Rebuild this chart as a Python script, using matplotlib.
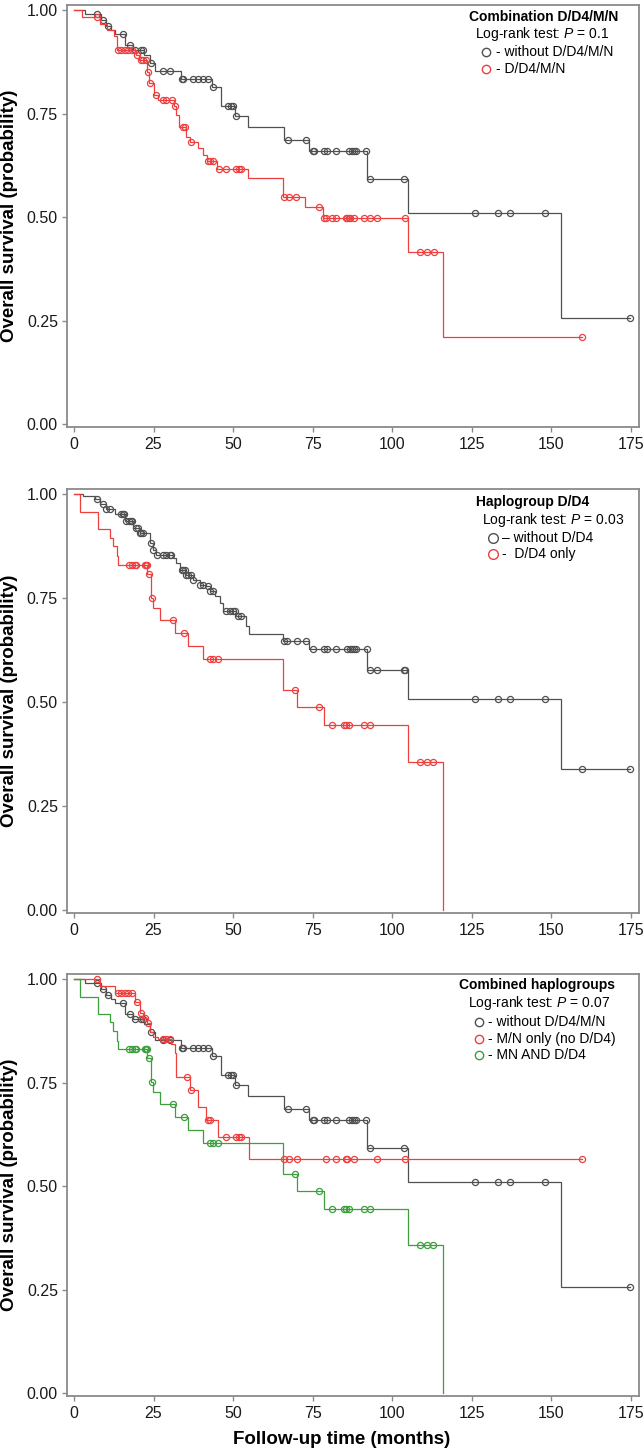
import matplotlib
matplotlib.use('Agg')
import matplotlib.pyplot as plt
import numpy as np

plt.rcParams['font.family'] = ['Liberation Sans', 'DejaVu Sans']
plt.rcParams['mathtext.fontset'] = 'custom'
plt.rcParams['mathtext.rm'] = 'Liberation Sans'
plt.rcParams['mathtext.it'] = 'Liberation Sans:italic'

# ---------------- data (months, survival probability) ----------------
# without D/D4/M/N (panels 1 and 3, black)
A_event_t = [3.4, 8.5, 10.0, 11.5, 13.0, 16.0, 18.5, 22.0, 24.0, 25.5, 33.7, 43.5, 46.3, 50.6, 54.6, 66.1, 74.0, 92.2, 104.9, 153.0]
A_event_s = [0.992, 0.976, 0.963, 0.952, 0.942, 0.917, 0.905, 0.893, 0.872, 0.854, 0.835, 0.815, 0.769, 0.744, 0.717, 0.687, 0.659, 0.593, 0.510, 0.256]
A_censor_t = [7.1, 9.2, 10.8, 15.5, 17.6, 19.1, 21.2, 21.7, 24.3, 28.0, 30.1, 33.8, 34.3, 37.4, 39.0, 40.5, 42.1, 43.7,
              48.5, 49.5, 50.0, 50.8, 67.4, 72.9, 75.0, 75.5, 78.7, 79.4, 82.2, 86.4, 87.5, 88.0, 88.5, 91.8,
              93.0, 103.7, 126.0, 133.3, 137.2, 148.2, 174.7]
A_end = 174.7

# D/D4/M/N (panel 1, red)
B_event_t = [2.5, 8.2, 10.5, 12.7, 13.5, 19.5, 20.5, 23.0, 23.6, 25.3, 26.5, 31.3, 32.1, 33.0, 35.3, 36.5, 39.0, 40.5, 41.7, 44.8, 54.6, 65.6, 72.5, 78.3, 104.9, 115.9]
B_event_s = [0.985, 0.968, 0.952, 0.937, 0.905, 0.893, 0.880, 0.852, 0.824, 0.796, 0.784, 0.768, 0.748, 0.719, 0.695, 0.683, 0.667, 0.651, 0.635, 0.616, 0.594, 0.550, 0.524, 0.498, 0.415, 0.210]
B_censor_t = [7.1, 13.9, 14.9, 16.0, 17.0, 18.1, 19.8, 21.2, 21.7, 22.5, 23.3, 23.8, 25.7, 28.0, 29.0, 30.9, 31.6,
              34.2, 34.8, 36.9, 42.1, 42.8, 43.7, 45.5, 47.9, 50.8, 51.8, 52.6, 65.9, 67.5, 69.8, 77.1,
              78.7, 79.1, 81.2, 82.2, 85.4, 85.9, 86.4, 86.9, 88.0, 91.1, 93.2, 95.3, 104.2,
              108.9, 111.0, 113.1, 159.6]
B_end = 159.6

# without D/D4 (panel 2, black)
C_event_t = [2.9, 6.6, 8.2, 10.2, 12.9, 16.0, 18.6, 20.7, 23.8, 24.9, 25.9, 31.1, 32.2, 33.2, 35.3, 37.4, 39.5, 41.6, 42.6, 44.2, 45.8, 46.8, 51.0, 54.0, 55.0, 65.6, 74.0, 92.2, 104.9, 153.0]
C_event_s = [0.996, 0.988, 0.976, 0.964, 0.952, 0.936, 0.920, 0.908, 0.884, 0.867, 0.855, 0.847, 0.835, 0.819, 0.807, 0.795, 0.783, 0.779, 0.767, 0.755, 0.739, 0.719, 0.707, 0.683, 0.665, 0.647, 0.627, 0.577, 0.508, 0.340]
C_censor_t = [7.1, 9.2, 10.2, 11.2, 14.8, 15.3, 15.8, 16.3, 17.3, 17.8, 18.3, 19.6, 20.1, 20.7, 21.2, 21.7, 24.3,
              24.9, 26.0, 28.0, 29.0, 30.1, 30.6, 33.8, 34.3, 34.8, 35.3, 35.8, 36.9, 37.4, 39.5, 40.5,
              42.1, 42.6, 43.7, 47.9, 49.0, 50.0, 50.5, 51.6, 52.6, 66.1, 67.1, 70.2, 72.8, 75.0, 78.7,
              79.4, 82.2, 85.9, 86.9, 87.5, 88.0, 88.5, 92.0, 93.0, 95.3, 103.7, 104.2, 126.0, 133.3,
              137.2, 148.2, 159.6, 174.7]
C_end = 174.7

# D/D4 only (panel 2, red) == MN AND D/D4 (panel 3, green)
D_event_t = [1.9, 7.6, 11.3, 12.3, 13.4, 13.9, 23.0, 24.2, 24.9, 27.0, 31.7, 35.8, 40.5, 65.6, 70.1, 78.7, 104.9, 115.9]
D_event_s = [0.958, 0.917, 0.896, 0.876, 0.851, 0.831, 0.809, 0.751, 0.727, 0.699, 0.667, 0.635, 0.605, 0.529, 0.488, 0.446, 0.357, 0.0]
D_censor_t = [17.3, 18.1, 19.1, 19.6, 22.3, 22.6, 22.8, 23.5, 24.4, 31.1, 34.6, 42.8, 43.7, 45.2, 69.6, 77.1,
              81.2, 84.8, 85.4, 86.4, 91.1, 93.2, 108.9, 111.0, 112.9]
D_end = 115.9

# M/N only (no D/D4) (panel 3, red)
E_event_t = [8.2, 12.9, 19.1, 20.7, 21.7, 22.8, 23.8, 24.9, 26.5, 30.6, 31.6, 32.2, 36.4, 39.0, 41.6, 45.2, 55.0]
E_event_s = [0.984, 0.966, 0.946, 0.918, 0.906, 0.894, 0.874, 0.861, 0.857, 0.845, 0.821, 0.765, 0.733, 0.692, 0.660, 0.620, 0.565]
E_censor_t = [7.1, 13.9, 14.9, 16.0, 17.0, 18.1, 19.9, 21.2, 22.3, 23.3, 28.0, 29.0, 30.1, 35.6, 36.9, 42.1, 42.6,
              47.9, 50.8, 51.8, 52.6, 66.1, 67.5, 70.1, 79.1, 82.2, 85.4, 85.9, 88.0, 95.1, 104.2, 159.6]
E_end = 159.6

x_ticks = [0, 25, 50, 75, 100, 125, 150, 175]
y_ticks = [0.0, 0.25, 0.5, 0.75, 1.0]
y_ticklabels = ['0.00', '0.25', '0.50', '0.75', '1.00']

panel_titles = ['Combination D/D4/M/N', 'Haplogroup D/D4', 'Combined haplogroups']
panel_pvals = ['0.1', '0.03', '0.07']
legend_labels = [['- without D/D4/M/N', '- D/D4/M/N'],
                 ['\u2013 without D/D4', '-  D/D4 only'],
                 ['- without D/D4/M/N', '- M/N only (no D/D4)', '- MN AND D/D4']]

BLACK = '#505050'
RED = '#ee3f3f'
GREEN = '#3c9f3c'

W, H = 644, 1450
fig = plt.figure(figsize=(W / 100, H / 100), dpi=100)


def px_axes(l, t, r, b):
    return fig.add_axes([l / W, 1 - b / H, (r - l) / W, (b - t) / H])


def surv_at(times, ev_t, ev_s):
    ev_t = np.asarray(ev_t)
    ev_s = np.asarray(ev_s)
    idx = np.searchsorted(ev_t, np.asarray(times), side='right') - 1
    return np.where(idx < 0, 1.0, ev_s[np.clip(idx, 0, None)])


def draw_km(ax, ev_t, ev_s, cens_t, end_t, color):
    t = np.concatenate([[0.0], ev_t, [end_t]])
    s = np.concatenate([[1.0], ev_s, [ev_s[-1]]])
    ax.step(t, s, where='post', color=color, lw=0.9, solid_joinstyle='miter')
    ax.plot(cens_t, surv_at(cens_t, ev_t, ev_s), 'o', mfc='none', mec=color,
            ms=4.4, mew=0.9, ls='none')


def style_ax(ax):
    ax.set_xlim(-2.2, 177.6)
    ax.set_ylim(-0.007, 1.013)
    ax.set_xticks(x_ticks)
    ax.set_yticks(y_ticks)
    ax.set_yticklabels(y_ticklabels)
    for sp in ax.spines.values():
        sp.set_color('#8a8a8a')
        sp.set_linewidth(1.3)
    ax.tick_params(direction='out', length=3.5, width=1.0, color='#8a8a8a',
                   labelsize=11.5, labelcolor='#1a1a1a', pad=3)
    ax.tick_params(axis='x', pad=4)


def ftext(x, y, s, **kw):
    fig.text(x / W, 1 - y / H, s, **kw)


def fmarker(x, y, color, ms=6.0):
    fig.add_artist(plt.Line2D([x / W], [1 - y / H], marker='o', mfc='none', mec=color,
                              ms=ms, mew=1.0, ls='none', transform=fig.transFigure))


boxes = [(67, 5, 639, 427), (67, 489, 639, 913), (67, 974, 639, 1396)]
axes = [px_axes(*b) for b in boxes]

draw_km(axes[0], A_event_t, A_event_s, A_censor_t, A_end, BLACK)
draw_km(axes[0], B_event_t, B_event_s, B_censor_t, B_end, RED)

draw_km(axes[1], C_event_t, C_event_s, C_censor_t, C_end, BLACK)
draw_km(axes[1], D_event_t, D_event_s, D_censor_t, D_end, RED)

draw_km(axes[2], A_event_t, A_event_s, A_censor_t, A_end, BLACK)
draw_km(axes[2], E_event_t, E_event_s, E_censor_t, E_end, RED)
draw_km(axes[2], D_event_t, D_event_s, D_censor_t, D_end, GREEN)

for ax, (l, t, r, b) in zip(axes, boxes):
    style_ax(ax)
    ftext(10, (t + b) / 2, 'Overall survival (probability)', rotation=90, fontsize=13.5,
          fontweight='bold', ha='center', va='center')

ftext(342, 1440, 'Follow-up time (months)', fontsize=13.5, fontweight='bold',
      ha='center', va='center')

# legends
leg = [
    dict(title=(544, 17), lr=(542, 34), mx=486, tx=496, ys=[52, 69], cols=[BLACK, RED], ms=6.0),
    dict(title=(533, 502), lr=(553, 520), mx=493, tx=502, ys=[538, 554], cols=[BLACK, RED], ms=7.0),
    dict(title=(537, 985), lr=(539, 1003), mx=479, tx=488, ys=[1022, 1039, 1055],
         cols=[BLACK, RED, GREEN], ms=6.0),
]
for i, L in enumerate(leg):
    ftext(L['title'][0], L['title'][1], panel_titles[i], fontsize=10, fontweight='bold',
          ha='center', va='center')
    ftext(L['lr'][0], L['lr'][1], 'Log-rank test: $P$ = ' + panel_pvals[i], fontsize=10,
          ha='center', va='center')
    for y, c, lab in zip(L['ys'], L['cols'], legend_labels[i]):
        fmarker(L['mx'], y, c, L['ms'])
        ftext(L['tx'], y, lab, fontsize=10, ha='left', va='center')

fig.savefig('out.png', dpi=100)
